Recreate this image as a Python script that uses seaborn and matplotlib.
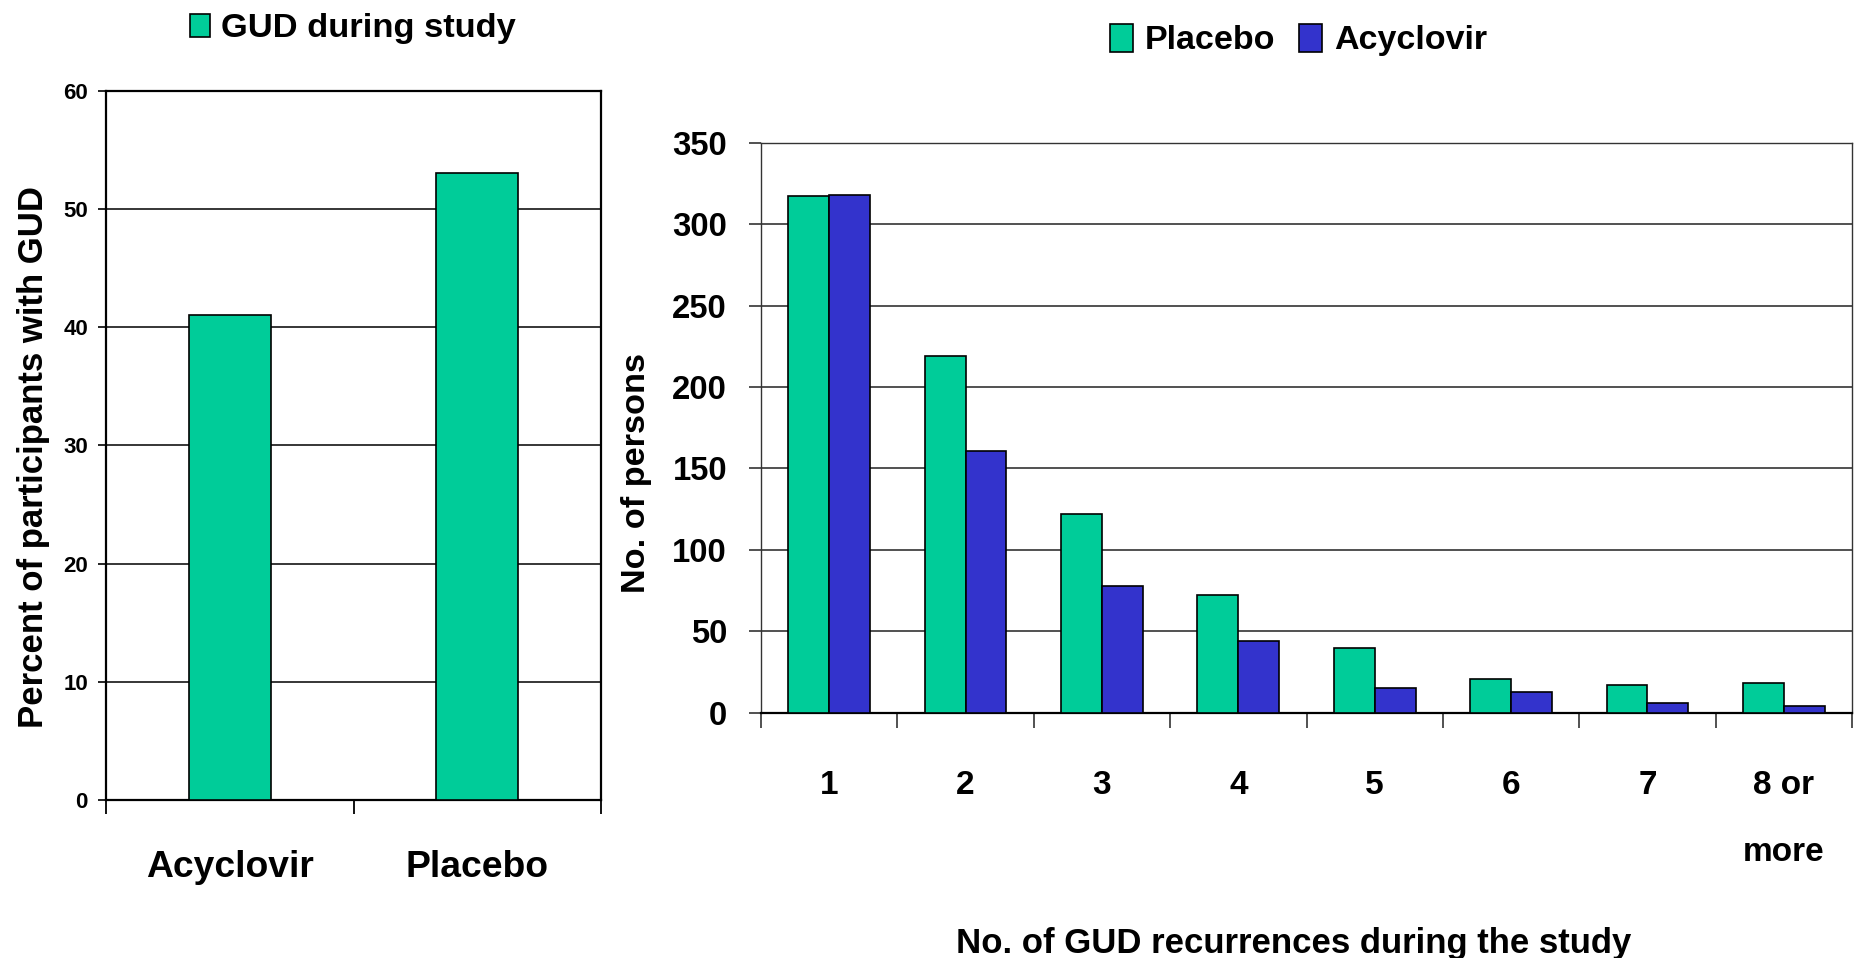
import matplotlib
matplotlib.use("Agg")
import matplotlib.pyplot as plt
from matplotlib.patches import Patch
import numpy as np
import pandas as pd
import seaborn as sns

# Percent of participants with GUD during the study
pct_categories = ["Acyclovir", "Placebo"]
pct_values = [41, 53]
pct_ticks = [0, 10, 20, 30, 40, 50, 60]

# Number of persons by count of GUD recurrences
recurrence_labels = ["1", "2", "3", "4", "5", "6", "7", "8 or\nmore"]
placebo_counts = [317, 219, 122, 72, 40, 21, 17, 18]
acyclovir_counts = [318, 161, 78, 44, 15, 13, 6, 4]
count_ticks = [0, 50, 100, 150, 200, 250, 300, 350]
treatments = ["Placebo", "Acyclovir"]

GREEN = "#00CC99"
BLUE = "#3333CC"

sns.set_style("white")
plt.rcParams["font.family"] = ["Liberation Sans", "DejaVu Sans"]
plt.rcParams["font.weight"] = "bold"
for key in ("text.color", "axes.labelcolor", "xtick.color", "ytick.color"):
    plt.rcParams[key] = "black"

W, H = 1856, 958
fig = plt.figure(figsize=(W / 100, H / 100), dpi=100)


def px_axes(x0, y0, x1, y1):
    return fig.add_axes([x0 / W, 1 - y1 / H, (x1 - x0) / W, (y1 - y0) / H])


# ---------------- left panel ----------------
ax1 = px_axes(106, 90.7, 601, 800)
pct_df = pd.DataFrame({"group": pct_categories, "percent": pct_values})
sns.barplot(data=pct_df, x="group", y="percent", order=pct_categories,
            color=GREEN, saturation=1, width=0.33, edgecolor="black",
            linewidth=1.2, ax=ax1, zorder=3)
ax1.set_ylim(0, 60)
ax1.set_xlim(-0.5, 1.5)
ax1.set_yticks(pct_ticks)
ax1.set_yticklabels([str(t) for t in pct_ticks], fontsize=16, fontweight="bold")
ax1.yaxis.grid(True, color="black", linewidth=1.1, zorder=0)
ax1.set_axisbelow(True)
ax1.set_xticks([-0.5, 0.5, 1.5])
ax1.set_xticklabels([])
ax1.set_xticks([0, 1], minor=True)
ax1.set_xticklabels(pct_categories, minor=True, fontsize=26.8, fontweight="bold")
ax1.tick_params(axis="x", which="major", length=10, width=1.3, direction="out",
                bottom=True, color="black")
ax1.tick_params(axis="x", which="minor", length=0, pad=36)
ax1.tick_params(axis="y", length=5.8, width=1.2, pad=7.2, left=True,
                direction="out", color="black")
for s in ax1.spines.values():
    s.set_color("black")
    s.set_linewidth(1.6)
ax1.set_xlabel("")
ax1.set_ylabel("Percent of participants with GUD", fontsize=25, fontweight="bold")
ax1.yaxis.set_label_coords((50 - 106) / 495, (800 - 456.7) / 709.3)

fig.legend(handles=[Patch(facecolor=GREEN, edgecolor="black", linewidth=1.2)],
           labels=["GUD during study"], loc="center left",
           bbox_to_anchor=(190 / W, 1 - 29 / H), frameon=False,
           borderpad=0, borderaxespad=0, handlelength=0.58, handleheight=0.62,
           handletextpad=0.32, prop={"size": 24.8, "weight": "bold"})

# ---------------- right panel ----------------
ax2 = px_axes(761, 142.7, 1852, 712.7)
counts_df = pd.DataFrame({
    "recurrences": recurrence_labels * 2,
    "treatment": [treatments[0]] * len(recurrence_labels) + [treatments[1]] * len(recurrence_labels),
    "persons": placebo_counts + acyclovir_counts,
})
sns.barplot(data=counts_df, x="recurrences", y="persons", hue="treatment",
            order=recurrence_labels, hue_order=treatments,
            palette=[GREEN, BLUE], saturation=1, width=0.6, gap=0,
            edgecolor="black", linewidth=1.2, ax=ax2, legend=False, zorder=3)
ax2.set_ylim(0, 350)
ax2.set_xlim(-0.5, len(recurrence_labels) - 0.5)
ax2.set_yticks(count_ticks)
ax2.set_yticklabels([str(t) for t in count_ticks], fontsize=23.7, fontweight="bold")
ax2.yaxis.grid(True, color="#222222", linewidth=1.1, zorder=0)
ax2.set_axisbelow(True)
ax2.set_xticks(np.arange(len(recurrence_labels) + 1) - 0.5)
ax2.set_xticklabels([])
ax2.set_xticks(np.arange(len(recurrence_labels)), minor=True)
ax2.set_xticklabels(recurrence_labels, minor=True, fontsize=24, fontweight="bold")
for lbl in ax2.get_xticklabels(minor=True):
    lbl.set_linespacing(2.5)
ax2.tick_params(axis="x", which="major", length=10.8, width=1.1, direction="out",
                bottom=True, color="#222222")
ax2.tick_params(axis="x", which="minor", length=0, pad=41.3)
ax2.tick_params(axis="y", length=8.6, width=1.1, pad=15.8, left=True,
                direction="out", color="#222222")
for name, s in ax2.spines.items():
    s.set_color("#333333")
    s.set_linewidth(1.0)
ax2.spines["bottom"].set_color("black")
ax2.spines["bottom"].set_linewidth(1.6)
ax2.set_ylabel("No. of persons", fontsize=24.7, fontweight="bold")
ax2.yaxis.set_label_coords((651.8 - 761) / 1091, (712.7 - 473) / 570)
ax2.set_xlabel("No. of GUD recurrences during the study", fontsize=25, fontweight="bold")
ax2.xaxis.set_label_coords((1293.5 - 761) / 1091, (712.7 - 927) / 570)

fig.legend(handles=[Patch(facecolor=GREEN, edgecolor="black", linewidth=1.2),
                    Patch(facecolor=BLUE, edgecolor="black", linewidth=1.2)],
           labels=treatments, loc="center left", ncol=2,
           bbox_to_anchor=(1110 / W, 1 - 40 / H), frameon=False,
           borderpad=0, borderaxespad=0, handlelength=0.68, handleheight=0.91,
           handletextpad=0.35, columnspacing=0.68,
           prop={"size": 24.5, "weight": "bold"})

fig.savefig("out.png", dpi=100, facecolor="white")
